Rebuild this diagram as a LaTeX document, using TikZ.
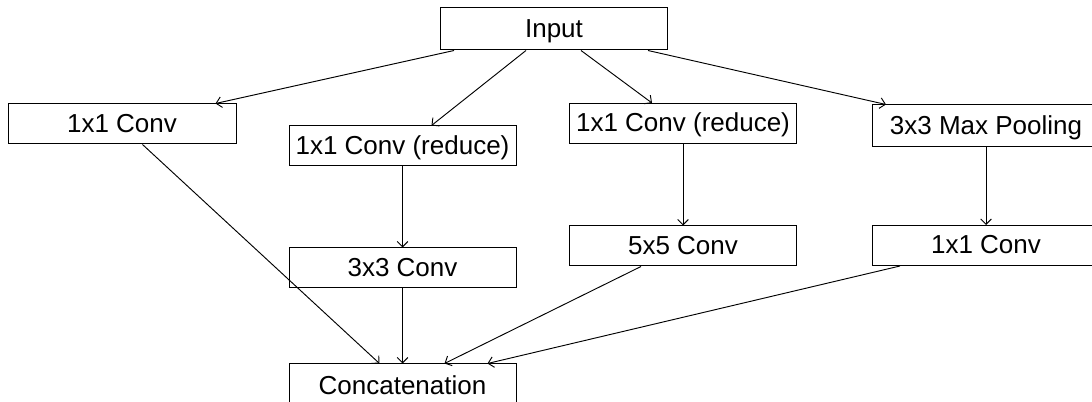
\documentclass[tikz,border=0pt]{standalone}
\usepackage{fontspec}
\setmainfont{Liberation Sans}
\usetikzlibrary{arrows.meta,calc}
\begin{document}
\begin{tikzpicture}[x=0.75pt,y=-0.75pt,
  box/.style={draw, line width=0.75pt, minimum width=170.25pt, minimum height=30pt,
    inner sep=0pt, text height=12.5pt, text depth=0pt,
    font=\fontsize{19.5}{22}\selectfont},
  arr/.style={line width=0.7pt, -{Straight Barb[length=4pt,width=8pt]}}]
\useasboundingbox (0,0) rectangle (1092,402);
\clip (0,0) rectangle (1092,402);
\node[box, minimum height=31.5pt] (input) at (554,29) {Input};
\node[box, minimum width=171pt] (c1) at (122,124) {1x1 Conv};
\node[box] (r1) at (402.5,146) {1x1 Conv (reduce)};
\node[box] (r2) at (683,123.5) {1x1 Conv (reduce)};
\node[box, minimum height=31.5pt] (mp) at (986,126) {3x3 Max Pooling};
\node[box] (c3) at (402.5,268) {3x3 Conv};
\node[box] (c5) at (683,246) {5x5 Conv};
\node[box] (c1r) at (986,245.5) {1x1 Conv};
\node[box, minimum height=33pt] (cat) at (402.5,386) {Concatenation};
\draw[arr] ($(input.south west)+(14,0)$) -- ($(c1.north east)+(-21,0)$);
\draw[arr] ($(input.south west)+(86,0)$) -- ($(r1.north west)+(143,0)$);
\draw[arr] ($(input.south west)+(141,0)$) -- ($(r2.north west)+(83,0)$);
\draw[arr] ($(input.south west)+(208,0)$) -- ($(mp.north west)+(14,0)$);
\draw[arr] (r1.south) -- (c3.north);
\draw[arr] (r2.south) -- (c5.north);
\draw[arr] (mp.south) -- (c1r.north);
\draw[arr] ($(c1.south west)+(135,0)$) -- ($(cat.north west)+(91,0)$);
\draw[arr] (c3.south) -- (cat.north);
\draw[arr] ($(c5.south west)+(72,0)$) -- ($(cat.north west)+(156,0)$);
\draw[arr] ($(c1r.south west)+(28,0)$) -- ($(cat.north west)+(199,0)$);
\end{tikzpicture}
\end{document}
